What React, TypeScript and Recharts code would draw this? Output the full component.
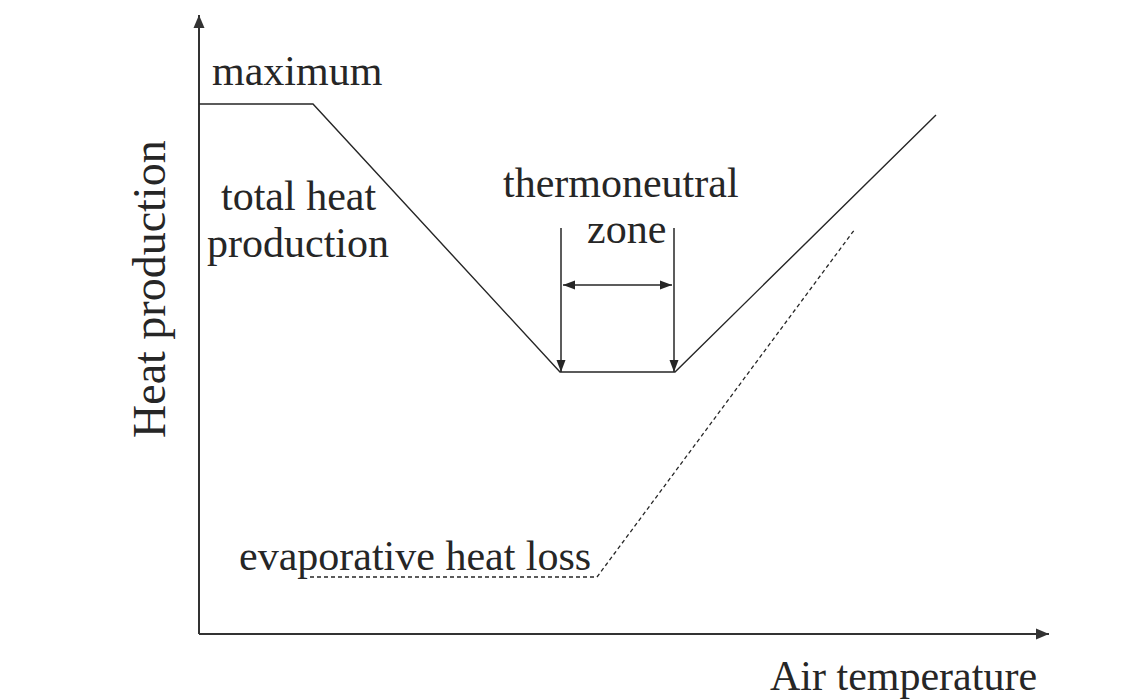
import { LineChart, Line, XAxis, YAxis, ReferenceLine, ReferenceDot } from "recharts";

// schematic units: x = air temperature, y = heat production
const totalHeat = [
  { x: 0, y: 530 },
  { x: 114, y: 530 },
  { x: 361, y: 262 },
  { x: 476, y: 262 },
  { x: 737, y: 519 },
];

const evapLoss = [
  { x: 111, y: 57 },
  { x: 398, y: 57 },
  { x: 656, y: 405 },
];

// thermoneutral zone bounds (lower / upper critical temperature)
const zoneBounds = [362, 475];
const zoneTop = 406;
const zoneBottom = 262;
const zoneSpanY = 349;

const X_MAX = 850;
const Y_MAX = 619;

const labels = [
  { text: "maximum", x: 13, y: 549 },
  { text: "total heat", x: 22, y: 424 },
  { text: "production", x: 8, y: 377 },
  { text: "thermoneutral", x: 304, y: 437 },
  { text: "zone", x: 388, y: 391 },
  { text: "evaporative heat loss", x: 40, y: 64 },
  { text: "Air temperature", x: 571, y: -56 },
];

const FONT = "'Liberation Serif', 'Times New Roman', serif";
const INK = "#262626";

function arrowShape(opts: { start?: boolean; end?: boolean; len: number; wid: number; width: number; color: string }) {
  return (p: any) => {
    const { x1, y1, x2, y2 } = p;
    const dx = x2 - x1;
    const dy = y2 - y1;
    const d = Math.hypot(dx, dy) || 1;
    const ux = dx / d;
    const uy = dy / d;
    const head = (tx: number, ty: number, sx: number, sy: number) => {
      const bx = tx - sx * opts.len;
      const by = ty - sy * opts.len;
      const px = -sy * opts.wid / 2;
      const py = sx * opts.wid / 2;
      return `${tx},${ty} ${bx + px},${by + py} ${bx - px},${by - py}`;
    };
    return (
      <g>
        <line x1={x1} y1={y1} x2={x2} y2={y2} stroke={opts.color} strokeWidth={opts.width} />
        {opts.end && <polygon points={head(x2, y2, ux, uy)} fill={opts.color} />}
        {opts.start && <polygon points={head(x1, y1, -ux, -uy)} fill={opts.color} />}
      </g>
    );
  };
}

function textShape(text: string, size = 42, rotate = false) {
  return (p: any) => (
    <text
      x={p.cx}
      y={p.cy}
      fontFamily={FONT}
      fontSize={size}
      fill={INK}
      textAnchor="start"
      transform={rotate ? `rotate(-90 ${p.cx} ${p.cy})` : undefined}
    >
      {text}
    </text>
  );
}

export default function App() {
  return (
    <div style={{ position: "absolute", left: 0, top: 0, background: "#fff" }}>
      <LineChart width={1145} height={699} margin={{ top: 15, right: 96, bottom: 65, left: 199 }}>
        <XAxis type="number" dataKey="x" domain={[0, X_MAX]} hide allowDataOverflow />
        <YAxis type="number" dataKey="y" domain={[0, Y_MAX]} hide allowDataOverflow />

        {/* axes with arrow heads */}
        <ReferenceLine
          segment={[{ x: 0, y: 0 }, { x: X_MAX, y: 0 }]}
          ifOverflow="visible"
          shape={arrowShape({ end: true, len: 13, wid: 11, width: 2, color: "#333" })}
        />
        <ReferenceLine
          segment={[{ x: 0, y: 0 }, { x: 0, y: Y_MAX }]}
          ifOverflow="visible"
          shape={arrowShape({ end: true, len: 13, wid: 11, width: 2, color: "#333" })}
        />

        <Line
          data={totalHeat}
          dataKey="y"
          type="linear"
          stroke={INK}
          strokeWidth={1.4}
          dot={false}
          isAnimationActive={false}
        />
        <Line
          data={evapLoss}
          dataKey="y"
          type="linear"
          stroke={INK}
          strokeWidth={1.3}
          strokeDasharray="4 3"
          dot={false}
          isAnimationActive={false}
        />

        {/* thermoneutral zone markers */}
        {zoneBounds.map((b) => (
          <ReferenceLine
            key={b}
            segment={[{ x: b, y: zoneTop }, { x: b, y: zoneBottom }]}
            ifOverflow="visible"
            shape={arrowShape({ end: true, len: 12, wid: 9, width: 1.5, color: INK })}
          />
        ))}
        <ReferenceLine
          segment={[{ x: zoneBounds[0] + 2, y: zoneSpanY }, { x: zoneBounds[1] - 2, y: zoneSpanY }]}
          ifOverflow="visible"
          shape={arrowShape({ start: true, end: true, len: 12, wid: 9, width: 1.5, color: INK })}
        />

        {labels.map((l) => (
          <ReferenceDot key={l.text} x={l.x} y={l.y} r={0} ifOverflow="visible" shape={textShape(l.text)} />
        ))}
        <ReferenceDot x={-34} y={196} r={0} ifOverflow="visible" shape={textShape("Heat production", 46, true)} />
      </LineChart>
    </div>
  );
}
